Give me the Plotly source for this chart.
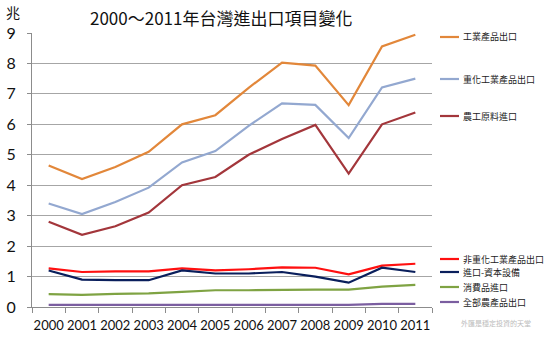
import plotly.graph_objects as go

years = ["2000", "2001", "2002", "2003", "2004", "2005",
         "2006", "2007", "2008", "2009", "2010", "2011"]

industrial_exports = [4.65, 4.2, 4.6, 5.1, 6.0, 6.3, 7.2, 8.03, 7.93, 6.63, 8.56, 8.94]
heavy_chem_exports = [3.4, 3.05, 3.45, 3.92, 4.75, 5.12, 5.95, 6.69, 6.64, 5.55, 7.21, 7.5]
agri_ind_imports = [2.8, 2.37, 2.65, 3.1, 4.0, 4.27, 5.0, 5.52, 5.98, 4.38, 6.0, 6.39]
non_heavy_exports = [1.27, 1.15, 1.17, 1.17, 1.27, 1.2, 1.24, 1.3, 1.29, 1.07, 1.36, 1.42]
capital_imports = [1.2, 0.9, 0.88, 0.88, 1.2, 1.1, 1.1, 1.15, 1.0, 0.8, 1.29, 1.15]
consumer_imports = [0.42, 0.4, 0.43, 0.45, 0.5, 0.55, 0.55, 0.57, 0.57, 0.57, 0.67, 0.73]
farm_exports = [0.07, 0.07, 0.07, 0.07, 0.07, 0.07, 0.07, 0.07, 0.07, 0.07, 0.1, 0.1]

series_names = ["工業產品出口", "重化工業產品出口", "農工原料進口",
                "非重化工業產品出口", "進口-資本設備", "消費品進口", "全部農產品出口"]
series_values = [industrial_exports, heavy_chem_exports, agri_ind_imports,
                 non_heavy_exports, capital_imports, consumer_imports, farm_exports]
colors = ["#E2873A", "#93A8D0", "#A3363B", "#FF1010", "#0A1F5C", "#7FA343", "#7B5EA0"]
legend_y = [37, 79, 116, 259, 272, 287, 302]  # pixel rows of the legend keys

W, H = 553, 338
L, R, T, B = 32, 121, 33, 31
PW, PH = W - L - R, H - T - B


def px(x):
    return (x - L) / PW


def py(y):
    return 1 - (y - T) / PH


fig = go.Figure()
for name, vals, col in zip(series_names, series_values, colors):
    fig.add_trace(go.Scatter(x=years, y=vals, mode="lines", name=name,
                             line=dict(color=col, width=2.2), showlegend=False))

# legend keys and labels on the right
for name, col, ly in zip(series_names, colors, legend_y):
    fig.add_shape(type="line", xref="paper", yref="paper",
                  x0=px(440), x1=px(459), y0=py(ly), y1=py(ly),
                  line=dict(color=col, width=2.2))
    fig.add_annotation(text=name, xref="paper", yref="paper",
                       x=px(461), y=py(ly), xanchor="left", yanchor="middle",
                       showarrow=False,
                       font=dict(family="Noto Sans CJK TC", size=9, color="#222"))

fig.add_annotation(text="2000～2011年台灣進出口項目變化", xref="paper", yref="paper",
                   x=px(221), y=py(17), xanchor="center", yanchor="middle",
                   showarrow=False,
                   font=dict(family="Noto Sans CJK TC", size=17, color="#111"))
fig.add_annotation(text="兆", xref="paper", yref="paper",
                   x=px(4), y=py(12), xanchor="left", yanchor="middle",
                   showarrow=False,
                   font=dict(family="Noto Sans CJK TC", size=14, color="#111"))
fig.add_annotation(text="外匯是穩定投資的天堂", xref="paper", yref="paper",
                   x=px(496), y=py(323), xanchor="center", yanchor="middle",
                   showarrow=False,
                   font=dict(family="Noto Sans CJK TC", size=7, color="#BBBBBB"))

fig.update_layout(
    width=W, height=H,
    margin=dict(l=L, r=R, t=T, b=B),
    paper_bgcolor="white", plot_bgcolor="white",
    xaxis=dict(type="category", showgrid=False, showline=True, linecolor="#8C8C8C",
               linewidth=1, ticks="outside", tickson="boundaries", ticklen=5,
               tickcolor="#8C8C8C", tickangle=0, automargin=False,
               ticklabelstandoff=6,
               tickfont=dict(family="Lato", size=13, color="#111"),
               range=[-0.5, 11.5]),
    yaxis=dict(range=[0, 9], dtick=1, showgrid=True, gridcolor="#A6A6A6", gridwidth=1,
               showline=True, linecolor="#8C8C8C", linewidth=1, ticks="outside",
               ticklen=4, tickcolor="#8C8C8C", zeroline=False, automargin=False,
               ticklabelstandoff=8,
               tickfont=dict(family="Lato", size=16, color="#111")),
)

fig.write_html("out.html")
